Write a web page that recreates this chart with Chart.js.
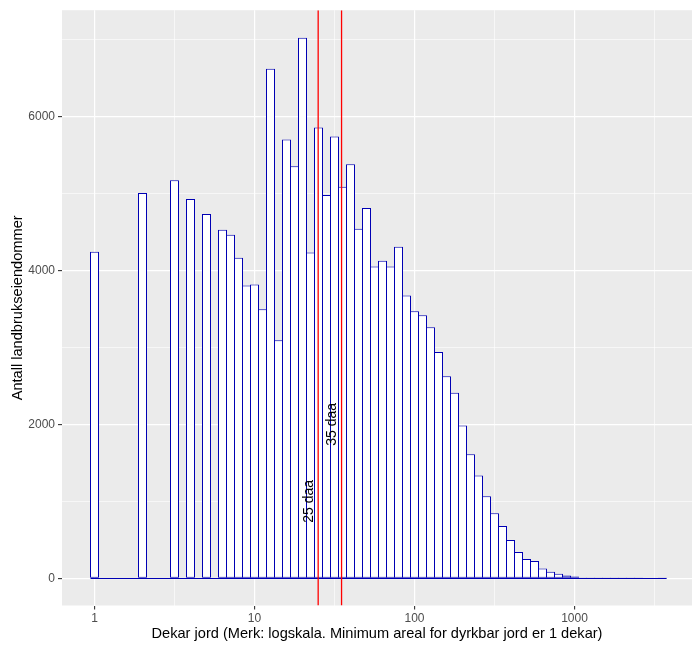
<!DOCTYPE html>
<html lang="no">
<head>
  <meta charset="UTF-8" />
  <title>Landbrukseiendommer etter dekar jord</title>
  <style>
    body {
      margin: 0;
      padding: 0;
      background: #fff;
    }
    #wrap {
      width: 700px;
      height: 650px;
    }
  </style>
</head>
<body>
  <div id="wrap">
    <canvas id="histogram" width="700" height="650"></canvas>
  </div>

  <script src="https://cdn.jsdelivr.net/npm/chart.js@4"></script>
  <script>
    // histogram bins: log10(dekar), width 0.05, first bin centred on log10(1) = 0
    const binWidth = 0.05;
    const counts = [
      4240, 0, 0, 0, 0, 0, 5003, 0, 0, 0,
      5170, 0, 4925, 0, 4731, 0, 4525, 4460, 4163, 3802,
      3815, 3493, 6615, 3093, 5699, 5351, 7019, 4232, 5854, 4977,
      5738, 5084, 5377, 4538, 4809, 4048, 4125, 4048, 4306, 3673,
      3467, 3415, 3260, 2938, 2624, 2409, 1985, 1613, 1338, 1067,
      848, 680, 499, 344, 254, 228, 128, 86, 62, 38,
      24, 13, 12, 12, 3, 3, 14, 2, 1, 0,
      0, 1
    ];

    const xMajor = [1, 10, 100, 1000];
    const xMinor = [3.162, 31.62, 316.2, 3162];
    const yMajor = [0, 2000, 4000, 6000];
    const yMinor = [1000, 3000, 5000, 7000];

    const cutoffs = [25, 35];
    const cutoffLabels = ["25 daa", "35 daa"];
    const cutoffLabelY = [1000, 2000];

    // x range picked so one bin is 8 px wide and bar edges land on whole pixels
    const xMin = -0.203125, xMax = 3.734375;
    const yMin = -351, yMax = 7376;

    const blue = "#0000B4";
    const fontFam = "'Liberation Sans', Arial, sans-serif";

    const bars = counts.map((c, i) => ({ x: i * binWidth, y: c }));
    const firstEdge = -binWidth / 2;
    const lastEdge = (counts.length - 1) * binWidth + binWidth / 2;

    const xTickVals = xMajor.concat(xMinor).map(v => Math.log10(v)).sort((a, b) => a - b);
    const yTickVals = yMajor.concat(yMinor).sort((a, b) => a - b);
    const isMajorX = v => xMajor.some(m => Math.abs(Math.log10(m) - v) < 1e-6);
    const isMajorY = v => yMajor.includes(v);
    const tickVal = c => (c && c.tick) ? c.tick.value : NaN;

    const panelBg = {
      id: "panelBg",
      beforeDraw(chart) {
        const { ctx, chartArea: a } = chart;
        ctx.save();
        ctx.fillStyle = "#fff";
        ctx.fillRect(0, 0, chart.width, chart.height);
        ctx.fillStyle = "#EBEBEB";
        ctx.fillRect(a.left, a.top, a.right - a.left, a.bottom - a.top);
        ctx.restore();
      }
    };

    const cutoffText = {
      id: "cutoffText",
      afterDatasetsDraw(chart) {
        const { ctx } = chart;
        const xs = chart.scales.x, ys = chart.scales.y;
        ctx.save();
        ctx.fillStyle = "#000";
        ctx.font = "14px " + fontFam;
        ctx.textAlign = "center";
        ctx.textBaseline = "middle";
        cutoffs.forEach((c, i) => {
          const px = xs.getPixelForValue(Math.log10(c));
          const py = ys.getPixelForValue(cutoffLabelY[i]);
          ctx.save();
          ctx.translate(px - 9, py);
          ctx.rotate(-Math.PI / 2);
          ctx.fillText(cutoffLabels[i], 0, 0);
          ctx.restore();
        });
        ctx.restore();
      }
    };

    const datasets = [
      {
        type: "bar",
        data: bars,
        backgroundColor: "#fff",
        borderColor: blue,
        borderWidth: 1,
        borderSkipped: false,
        categoryPercentage: 1,
        barPercentage: 1.125,   // 1 px overlap so neighbouring edges share one line
        order: 3
      },
      {
        type: "line",
        data: [{ x: firstEdge, y: 0 }, { x: lastEdge, y: 0 }],
        borderColor: blue,
        borderWidth: 1.1,
        pointRadius: 0,
        order: 2
      }
    ];
    cutoffs.forEach(c => {
      datasets.push({
        type: "line",
        data: [{ x: Math.log10(c), y: yMin }, { x: Math.log10(c), y: yMax }],
        borderColor: "#FF0000",
        borderWidth: 1.3,
        pointRadius: 0,
        order: 1
      });
    });

    new Chart(document.getElementById("histogram"), {
      data: { datasets },
      options: {
        responsive: false,
        animation: false,
        devicePixelRatio: 1,
        layout: { padding: { top: 7, right: 8, left: 0, bottom: 0 } },
        plugins: {
          legend: { display: false },
          tooltip: { enabled: false }
        },
        scales: {
          x: {
            type: "linear",
            min: xMin,
            max: xMax,
            offset: false,
            afterBuildTicks: s => { s.ticks = xTickVals.map(v => ({ value: v })); },
            afterFit: s => { s.height = 44.5; },
            border: { display: false },
            grid: {
              offset: false,
              color: "#fff",
              lineWidth: c => isMajorX(tickVal(c)) ? 1.2 : 0.6,
              tickColor: c => isMajorX(tickVal(c)) ? "#333" : "rgba(0,0,0,0)",
              tickLength: 4,
              tickWidth: 1.1
            },
            ticks: {
              autoSkip: false,
              maxRotation: 0,
              padding: 2,
              color: "#4D4D4D",
              font: { family: fontFam, size: 12 },
              callback: v => isMajorX(v) ? String(Math.round(Math.pow(10, v))) : ""
            },
            title: {
              display: true,
              text: "Dekar jord (Merk: logskala. Minimum areal for dyrkbar jord er 1 dekar)",
              color: "#000",
              font: { family: fontFam, size: 14.6 },
              padding: { top: 0, bottom: 7 }
            }
          },
          y: {
            type: "linear",
            min: yMin,
            max: yMax,
            afterBuildTicks: s => { s.ticks = yTickVals.map(v => ({ value: v })); },
            afterFit: s => { s.width = 62; },
            border: { display: false },
            grid: {
              color: "#fff",
              lineWidth: c => isMajorY(tickVal(c)) ? 1.2 : 0.6,
              tickColor: c => isMajorY(tickVal(c)) ? "#333" : "rgba(0,0,0,0)",
              tickLength: 4,
              tickWidth: 1.1
            },
            ticks: {
              autoSkip: false,
              padding: 3,
              color: "#4D4D4D",
              font: { family: fontFam, size: 12 },
              callback: v => isMajorY(v) ? String(v) : ""
            },
            title: {
              display: true,
              text: "Antall landbrukseiendommer",
              color: "#000",
              font: { family: fontFam, size: 14.6 },
              padding: { top: 9.5, bottom: 0 }
            }
          }
        }
      },
      plugins: [panelBg, cutoffText]
    });
  </script>
</body>
</html>
